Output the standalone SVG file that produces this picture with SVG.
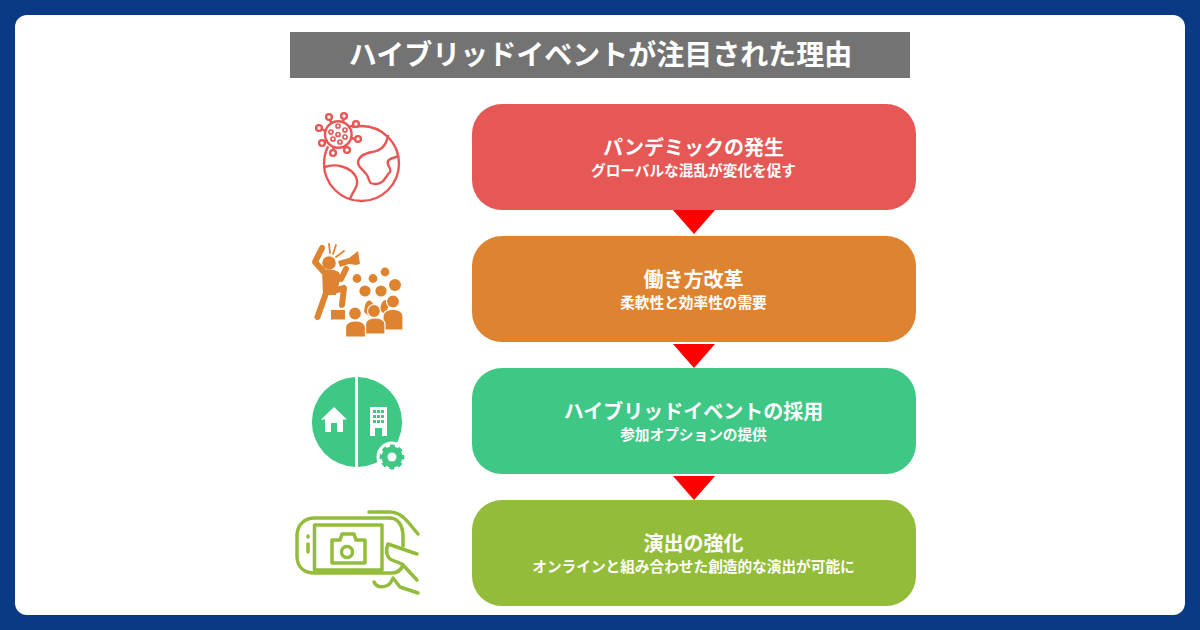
<svg xmlns="http://www.w3.org/2000/svg" width="1200" height="630" viewBox="0 0 1200 630">
<defs>
<style>
text{font-family:"Noto Sans CJK JP","Noto Sans",sans-serif;font-weight:700;fill:#fff;text-anchor:middle}
.h{font-size:20px}
.s{font-size:14.67px}
.t{font-size:28px}
.ln{fill:none;stroke-linecap:round;stroke-linejoin:round}
</style>
</defs>
<rect width="1200" height="630" fill="#0a3a84"/>
<rect x="15" y="15" width="1170" height="600" rx="12" fill="#fff"/>
<g id="title"><rect x="290" y="32" width="620" height="46" fill="#737373"/><text class="t" x="600.500" y="65">ハイブリッドイベントが注目された理由</text></g>
<g id="connectors" fill="#ff0000">
<polygon points="673,210 715,210 694,234"/>
<polygon points="673,344 715,344 694,368"/>
<polygon points="673,476 715,476 694,500"/>
</g>
<g id="node1"><rect x="472" y="104" width="444" height="106" rx="30" fill="#e65855"/><text class="h" x="693.500" y="155">パンデミックの発生</text><text class="s" x="693.500" y="176">グローバルな混乱が変化を促す</text></g>
<g id="node2"><rect x="472" y="236" width="444" height="106" rx="30" fill="#de8430"/><text class="h" x="693.500" y="287">働き方改革</text><text class="s" x="693.500" y="308">柔軟性と効率性の需要</text></g>
<g id="node3"><rect x="472" y="368" width="444" height="106" rx="30" fill="#3ec785"/><text class="h" x="693.500" y="419">ハイブリッドイベントの採用</text><text class="s" x="693.500" y="440">参加オプションの提供</text></g>
<g id="node4"><rect x="472" y="500" width="444" height="106" rx="30" fill="#93bc3a"/><text class="h" x="693.500" y="551">演出の強化</text><text class="s" x="693.500" y="572">オンラインと組み合わせた創造的な演出が可能に</text></g>
<g id="icon1" class="ln" stroke="#e65855" stroke-width="2.400">
<circle cx="361.500" cy="163.500" r="37.500"/>
<path d="M324.500 167C336 163 351 167 356 177C360 186 353 190 350 199"/>
<path d="M388 136C386 146 381 151 372 152C362 154 358 158 358 163C359 169 366 171 368 177C370 184 371 184 376 184C384 184 385 177 390 172C392 168 386 165 388 161C390 158 395 158 398 156"/>
<circle cx="338.300" cy="134.500" r="15.500" fill="#fff" stroke="none"/>
<circle cx="338.300" cy="134.500" r="13.300" fill="#fff"/>
<path d="M331 122L329 119M343 122L344 118M349 127L354 125M351 138L355 139M345 146L347 148M334 147L333 150M327 141L324 142M325 131L322 129"/>
<g fill="#fff"><circle cx="329" cy="117" r="2.900"/><circle cx="344" cy="116" r="2.900"/><circle cx="356" cy="124" r="2.900"/><circle cx="358" cy="139" r="2.900"/><circle cx="347" cy="150" r="2.900"/><circle cx="333" cy="153" r="2.900"/><circle cx="322" cy="143" r="2.900"/><circle cx="319" cy="128" r="2.900"/></g>
<g stroke-width="1.700"><circle cx="338" cy="126" r="2"/><circle cx="331" cy="132" r="2"/><circle cx="345" cy="130" r="2"/><circle cx="338" cy="134.500" r="2"/><circle cx="345" cy="137" r="2"/><circle cx="333" cy="139" r="2"/><circle cx="340" cy="142" r="2"/></g>
</g>
<g id="icon2" fill="#de8430">
<g class="ln" stroke="#de8430">
<path stroke-width="6" d="M322 248L315 262L323 271"/>
<path stroke-width="6" d="M326 293L317.500 317M333 291L344 288L342 305M336 275L341 279L346 269"/>
<path stroke-width="1.800" d="M329 244L330 253M336 245L333 254M344 251L336 257"/>
</g>
<circle cx="329" cy="263" r="6.800"/>
<path d="M322 270C326 269 334 269 339 272L340 280L336 295L323 295Z"/>
<path d="M338 261L349 258L358 251L360 264L356 265L349 264L340 267Z"/>
<rect x="331" y="310" width="14" height="9.500"/>
<circle cx="357" cy="278.500" r="4.400"/><circle cx="373" cy="278.500" r="4.400"/><circle cx="385" cy="272" r="4.400"/><circle cx="365" cy="291" r="5.600"/><circle cx="381" cy="291" r="5.600"/><circle cx="395" cy="285" r="6"/>
<path d="M364 312C365 298 371 298 374 306L369 316Z"/>
<path d="M380 310C381 300 386 297 389 303L386 316Z"/>
<g stroke="#fff" stroke-width="1.200">
<circle cx="393" cy="301.500" r="6.500"/><path d="M383 330V316C383 307 403 307 403 316V330Z"/>
<circle cx="374" cy="311" r="6.500"/><path d="M365.500 334V324C365.500 316 385 316 385 324V334Z"/>
<circle cx="355" cy="313.500" r="6.500"/><path d="M345.500 337V327C345.500 319 365.500 319 365.500 327V337Z"/>
</g>
</g>
<g id="icon3" fill="#3ec785">
<path d="M355 377.040A45 45 0 0 0 355 466.960Z"/>
<path d="M358 377.010A45 45 0 0 1 358 466.990Z"/>
<path fill="#fff" d="M334 407L347 419.500H343V432H337V423H331V432H325V419.500H321Z"/>
<rect x="370" y="407" width="17" height="29" fill="#fff"/>
<g fill="#3ec785"><rect x="373" y="410" width="3" height="3"/><rect x="377" y="410" width="3" height="3"/><rect x="381" y="410" width="3" height="3"/><rect x="373" y="415" width="3" height="3"/><rect x="377" y="415" width="3" height="3"/><rect x="381" y="415" width="3" height="3"/><rect x="373" y="420" width="3" height="3"/><rect x="377" y="420" width="3" height="3"/><rect x="381" y="420" width="3" height="3"/><rect x="375" y="428" width="7" height="8"/></g>
<circle cx="392" cy="457" r="15.500" fill="#fff"/>
<circle cx="392" cy="457" r="7.500" fill="none" stroke="#3ec785" stroke-width="6"/>
<circle cx="392" cy="457" r="10.800" fill="none" stroke="#3ec785" stroke-width="3.200" stroke-dasharray="4.800 3.680" stroke-dashoffset="2.400"/>
</g>
<g id="icon4" class="ln" stroke="#93bc3a" stroke-width="3.500">
<path d="M390 518H315C304 518 297 525 297 536V556C297 567 304 573 315 573H392C397 573 401 570 403 565"/>
<path d="M369 512H390C398 512 403 516 408 522L418 534"/>
<path d="M390 518C398 518 403 526 403 536V546"/>
<rect x="314.500" y="525" width="67.500" height="45"/>
<path d="M332 540H340L342 534H354L356 540H365V563H332Z"/>
<circle cx="347" cy="552" r="5.500"/>
<path d="M308 536V537M308 544V552"/>
<path d="M388 544L417 554M388 544C385 551 387 558 392 560L402 564L417 580"/>
<path d="M393 578L400 587L418 593M374 582C377 589 389 588 392 580"/>
</g>
</svg>
